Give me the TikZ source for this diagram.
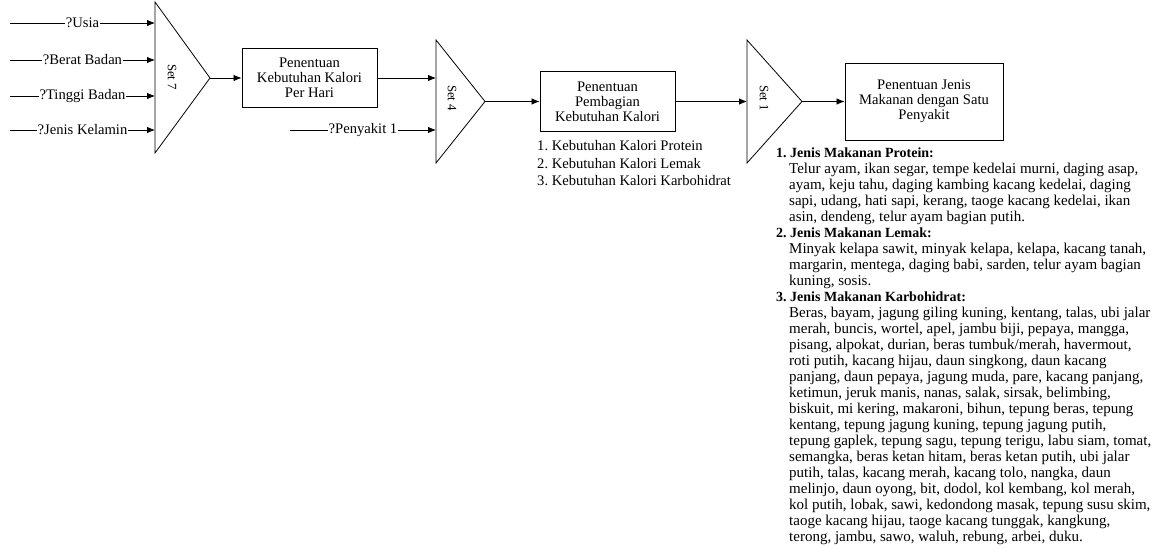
\documentclass[tikz,border=0pt]{standalone}
\usepackage{fontspec}
\setmainfont{Liberation Serif}
\usetikzlibrary{arrows.meta}
\usetikzlibrary{positioning}
\frenchspacing

\newcommand{\isi}[1]{\hspace*{13pt}#1}

\begin{document}
\begin{tikzpicture}[x=1pt,y=-1pt,
    every node/.style={font=\fontsize{14.6}{15}\selectfont},
    garis/.style={line width=0.8pt},
    panah/.style={garis,-{Latex[length=8pt,width=6.5pt]}},
    masukan/.style={fill=white,inner sep=0.5pt},
    proses/.style={draw,line width=0.9pt,align=center,inner sep=2pt},
    setlabel/.style={rotate=-90,font=\fontsize{12.8}{14}\selectfont},
]
\useasboundingbox (0,0) rectangle (1159,548);

    % Set 7 dengan empat masukan
    \coordinate (s7a) at (155,2);
    \coordinate (s7b) at (155,153);
    \coordinate (s7c) at (210,78);
    \draw[garis] (s7a) -- (s7c) -- (s7b) -- cycle;
    \node[setlabel] (set7) at (172,77) {Set 7};
    \foreach \teks/\y [count=\i] in {?Usia/23, ?Berat Badan/60, ?Tinggi Badan/96, ?Jenis Kelamin/130} {
        \coordinate (in\i) at (10,\y);
        \coordinate (s7in\i) at (155,\y);
        \draw[panah] (in\i) -- node[masukan] (lbl\i) {\teks} (s7in\i);
    }

    % Kebutuhan kalori per hari
    \node[proses,minimum width=135,minimum height=59] (kalori) at (309.5,78)
        {Penentuan\\Kebutuhan Kalori\\Per Hari};
    \draw[panah] (s7c) -- (kalori.west);

    % Set 4
    \coordinate (s4a) at (436,40);
    \coordinate (s4b) at (436,163);
    \coordinate (s4c) at (485,101.5);
    \draw[garis] (s4a) -- (s4c) -- (s4b) -- cycle;
    \node[setlabel] (set4) at (452,98) {Set 4};
    \draw[panah] (kalori.east) -- (kalori.east -| s4a);
    \coordinate (in5) at (290,130);
    \coordinate (s4in) at (436,130);
    \draw[panah] (in5) -- node[masukan] (lbl5) {?Penyakit 1} (s4in);

    % Pembagian kebutuhan kalori
    \node[proses,minimum width=135,minimum height=60] (bagi) at (607.5,101.5)
        {Penentuan\\Pembagian\\Kebutuhan Kalori};
    \draw[panah] (s4c) -- (bagi.west);
    \node[anchor=north west,align=left,inner sep=0pt,font=\fontsize{14.6}{17.5}\selectfont] (daftar)
        at (537,140.5) {1. Kebutuhan Kalori Protein\\2. Kebutuhan Kalori Lemak\\3. Kebutuhan Kalori Karbohidrat};

    % Set 1
    \coordinate (s1a) at (747,40);
    \coordinate (s1b) at (747,163);
    \coordinate (s1c) at (802,101.5);
    \draw[garis] (s1a) -- (s1c) -- (s1b) -- cycle;
    \node[setlabel] (set1) at (764,98) {Set 1};
    \draw[panah] (bagi.east) -- (bagi.east -| s1a);

    % Jenis makanan
    \node[proses,minimum width=158,minimum height=77] (makanan) at (924,101.5)
        {Penentuan Jenis\\Makanan dengan Satu\\Penyakit};
    \draw[panah] (s1c) -- (makanan.west);

    % Daftar jenis makanan
    \node[anchor=north west,align=left,inner sep=0pt,font=\fontsize{15}{16}\selectfont] (jenis) at (776,148) {%
        {\fontsize{14}{16}\selectfont\bfseries 1. Jenis Makanan Protein:}\\
        \isi{Telur ayam, ikan segar, tempe kedelai murni, daging asap,}\\
        \isi{ayam, keju tahu, daging kambing kacang kedelai, daging}\\
        \isi{sapi, udang, hati sapi, kerang, taoge kacang kedelai, ikan}\\
        \isi{asin, dendeng, telur ayam bagian putih.}\\
        {\fontsize{14}{16}\selectfont\bfseries 2. Jenis Makanan Lemak:}\\
        \isi{Minyak kelapa sawit, minyak kelapa, kelapa, kacang tanah,}\\
        \isi{margarin, mentega, daging babi, sarden, telur ayam bagian}\\
        \isi{kuning, sosis.}\\
        {\fontsize{14}{16}\selectfont\bfseries 3. Jenis Makanan Karbohidrat:}\\
        \isi{Beras, bayam, jagung giling kuning, kentang, talas, ubi jalar}\\
        \isi{merah, buncis, wortel, apel, jambu biji, pepaya, mangga,}\\
        \isi{pisang, alpokat, durian, beras tumbuk/merah, havermout,}\\
        \isi{roti putih, kacang hijau, daun singkong, daun kacang}\\
        \isi{panjang, daun pepaya, jagung muda, pare, kacang panjang,}\\
        \isi{ketimun, jeruk manis, nanas, salak, sirsak, belimbing,}\\
        \isi{biskuit, mi kering, makaroni, bihun, tepung beras, tepung}\\
        \isi{kentang, tepung jagung kuning, tepung jagung putih,}\\
        \isi{tepung gaplek, tepung sagu, tepung terigu, labu siam, tomat,}\\
        \isi{semangka, beras ketan hitam, beras ketan putih, ubi jalar}\\
        \isi{putih, talas, kacang merah, kacang tolo, nangka, daun}\\
        \isi{melinjo, daun oyong, bit, dodol, kol kembang, kol merah,}\\
        \isi{kol putih, lobak, sawi, kedondong masak, tepung susu skim,}\\
        \isi{taoge kacang hijau, taoge kacang tunggak, kangkung,}\\
        \isi{terong, jambu, sawo, waluh, rebung, arbei, duku.}};

\end{tikzpicture}
\end{document}
